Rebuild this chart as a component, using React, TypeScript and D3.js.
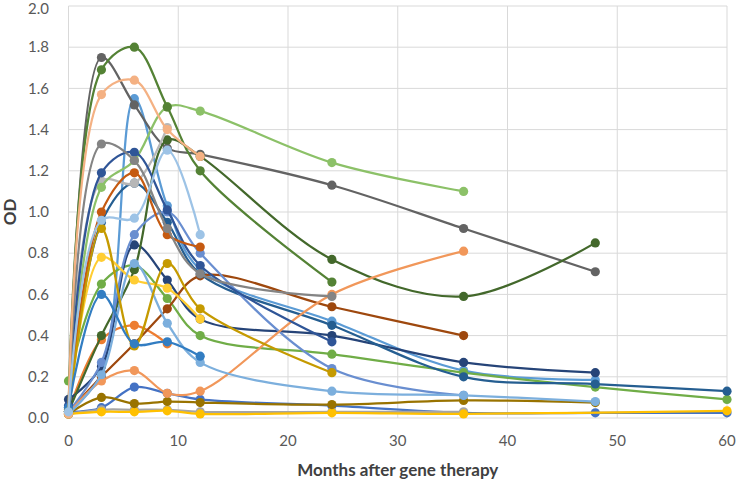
import React from "react";
import * as d3 from "d3";

const months = [0, 3, 6, 9, 12, 24, 36, 48, 60];
const yTicks = [0, 0.2, 0.4, 0.6, 0.8, 1.0, 1.2, 1.4, 1.6, 1.8, 2.0];
const xTicks = [0, 10, 20, 30, 40, 50, 60];

type V = number | null;
const s01: V[] = [0.03, 0.05, 0.15, 0.12, 0.09, 0.06, 0.025, 0.025, 0.025];
const s02: V[] = [0.03, 0.38, 0.45, 0.36];
const s03: V[] = [0.02, 0.04, 0.04, 0.04, 0.03, 0.03, 0.03];
const s04: V[] = [0.02, 0.03, 0.03, 0.035, 0.02, 0.025, 0.02, null, 0.035];
const s05: V[] = [0.03, 0.22, 1.55, 1.03, 0.72, 0.47, 0.23, 0.185];
const s06: V[] = [0.18, 0.65, 0.74, 0.58, 0.4, 0.31, 0.22, 0.15, 0.09];
const s07: V[] = [0.09, 0.25, 0.84, 0.67, 0.48, 0.4, 0.27, 0.22];
const s08: V[] = [0.03, 0.2, 0.36, 0.53, 0.69, 0.54, 0.4];
const s09: V[] = [0.05, 1.75, 1.52, 1.31, 1.28, 1.13, 0.92, 0.71];
const s10: V[] = [0.02, 0.1, 0.07, 0.08, 0.075, 0.065, 0.085, 0.075];
const s11: V[] = [0.05, 0.95, 1.14, 0.95, 0.7, 0.45, 0.2, 0.165, 0.13];
const s12: V[] = [0.03, 0.4, 0.72, 1.35, 1.27, 0.77, 0.59, 0.85];
const s13: V[] = [0.03, 0.27, 0.89, 1.0, 0.8, 0.24, 0.11];
const s14: V[] = [0.02, 0.18, 0.23, 0.12, 0.13, 0.6, 0.81];
const s15: V[] = [0.04, 1.15, 1.14, 1.41];
const s16: V[] = [0.02, 0.78, 0.67, 0.63, 0.48];
const s17: V[] = [0.02, 0.21, 0.75, 0.46, 0.27, 0.13, 0.11, 0.08];
const s18: V[] = [0.03, 1.12, 1.25, 1.51, 1.49, 1.24, 1.1];
const s19: V[] = [0.06, 1.19, 1.29, 1.01, 0.74, 0.37];
const s20: V[] = [0.04, 1.0, 1.19, 0.89, 0.83];
const s21: V[] = [0.03, 1.33, 1.25, 0.92, 0.7, 0.59];
const s22: V[] = [0.02, 0.92, 0.35, 0.75, 0.53, 0.22];
const s23: V[] = [0.05, 0.6, 0.36, 0.37, 0.3];
const s24: V[] = [0.03, 1.69, 1.8, 1.51, 1.2, 0.66];
const s25: V[] = [0.02, 1.57, 1.64, 1.4, 1.27];
const s26: V[] = [0.03, 0.96, 0.97, 1.3, 0.89];

const seriesValues = [s01, s02, s03, s04, s05, s06, s07, s08, s09, s10, s11, s12, s13,
  s14, s15, s16, s17, s18, s19, s20, s21, s22, s23, s24, s25, s26];
const seriesColors = ["#4472C4", "#ED7D31", "#A5A5A5", "#FFC000", "#5B9BD5", "#70AD47",
  "#264478", "#9E480E", "#636363", "#997300", "#255E91", "#43682B", "#698ED0",
  "#F1975A", "#B7B7B7", "#FFCD33", "#7CAFDD", "#8CC168", "#2F5597", "#C55A11",
  "#848484", "#C59A00", "#327DC2", "#548235", "#F4B183", "#9DC3E6"];

const W = 736, H = 480;
const M = { left: 68.5, right: 9, top: 6, bottom: 62 };

export default function App() {
  const x = d3.scaleLinear().domain([0, 60]).range([M.left, W - M.right]);
  const y = d3.scaleLinear().domain([0, 2]).range([H - M.bottom, M.top]);
  const line = d3.line<[number, number]>()
    .x((d) => x(d[0]))
    .y((d) => y(d[1]))
    .curve(d3.curveCatmullRom.alpha(0.5));
  const font = "Lato, 'Open Sans', sans-serif";
  const series = seriesValues.map((vals, i) => ({
    color: seriesColors[i],
    pts: vals
      .map((v, j) => (v === null || v === undefined ? null : [months[j], v] as [number, number]))
      .filter((p): p is [number, number] => p !== null),
  }));
  return (
    <svg width={W} height={H} style={{ position: "absolute", left: 0, top: 0, background: "#fff" }}>
      {yTicks.map((t) => (
        <line key={"gy" + t} x1={M.left} x2={W - M.right} y1={y(t)} y2={y(t)} stroke="#D9D9D9" strokeWidth={1} />
      ))}
      {xTicks.map((t) => (
        <line key={"gx" + t} x1={x(t)} x2={x(t)} y1={M.top} y2={H - M.bottom} stroke="#D9D9D9" strokeWidth={1} />
      ))}
      {yTicks.map((t) => (
        <text key={"ty" + t} x={49} y={Math.max(y(t), 9)} dy="0.35em" textAnchor="end" fontFamily={font} fontSize={15} fill="#595959">
          {t.toFixed(1)}
        </text>
      ))}
      {xTicks.map((t) => (
        <text key={"tx" + t} x={x(t)} y={446} textAnchor="middle" fontFamily={font} fontSize={15} fill="#595959">
          {t}
        </text>
      ))}
      <text x={(M.left + W - M.right) / 2} y={476} textAnchor="middle" fontFamily={font} fontSize={17} fontWeight="bold" fill="#404040">
        Months after gene therapy
      </text>
      <text transform={`translate(16,${(M.top + H - M.bottom) / 2}) rotate(-90)`} textAnchor="middle" fontFamily={font} fontSize={17} fontWeight="bold" fill="#404040">
        OD
      </text>
      {series.map((s, i) => (
        <g key={"s" + i}>
          <path d={line(s.pts) || ""} fill="none" stroke={s.color} strokeWidth={2.25} />
          {s.pts.map((p, j) => (
            <circle key={j} cx={x(p[0])} cy={y(p[1])} r={4.6} fill={s.color} />
          ))}
        </g>
      ))}
    </svg>
  );
}
